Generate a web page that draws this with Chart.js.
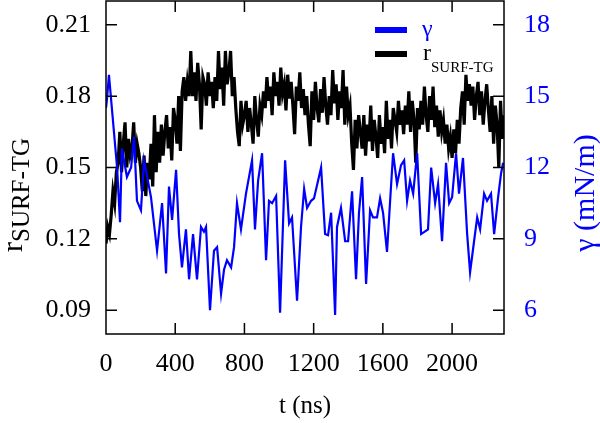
<!DOCTYPE html>
<html>
<head>
<meta charset="utf-8">
<script src="https://cdn.jsdelivr.net/npm/chart.js@4.4.1/dist/chart.umd.min.js"></script>
<style>
  body { margin: 0; background: #fff; }
  canvas { display: block; }
</style>
</head>
<body>
<canvas id="surfChart" width="600" height="423"></canvas>
<script>
// surface tension gamma (mN/m), read at irregular times
const gammaT = [0, 6, 17, 64, 81, 92, 121, 145, 162, 179, 202, 220, 260, 295, 324, 347, 364, 382, 405, 422,
  439, 462, 480, 503, 526, 549, 566, 578, 601, 624, 642, 665, 682, 699, 723, 740, 757, 780, 809, 844,
  861, 879, 902, 925, 942, 960, 983, 1006, 1035, 1058, 1075, 1104, 1127, 1145, 1162, 1185, 1202, 1243, 1266, 1283,
  1301, 1324, 1335, 1358, 1382, 1399, 1422, 1445, 1462, 1480, 1503, 1526, 1543, 1566, 1584, 1601, 1624, 1642, 1659, 1682,
  1705, 1723, 1740, 1757, 1775, 1798, 1821, 1861, 1879, 1902, 1919, 1942, 1965, 1983, 2000, 2023, 2040, 2063, 2087, 2104,
  2127, 2145, 2162, 2185, 2202, 2225, 2243, 2266, 2283, 2295];
const gammaVal = [14.5, 14.9, 15.9, 12.0, 9.7, 12.8, 11.6, 12.0, 13.3, 10.6, 10.2, 12.3, 10.75, 8.5, 10.5, 7.55, 11.2, 9.8, 11.9, 9.2,
  7.8, 9.4, 7.3, 9.2, 7.3, 9.5, 9.3, 9.5, 6.0, 8.5, 8.65, 6.7, 7.7, 8.1, 7.8, 8.65, 10.5, 9.4, 10.9, 12.3,
  9.4, 11.45, 12.6, 8.1, 10.6, 10.5, 10.8, 5.9, 12.3, 9.65, 9.9, 6.4, 9.5, 11.1, 10.3, 10.6, 10.7, 12.0, 9.2, 9.15,
  10.1, 5.8, 9.5, 10.3, 8.9, 8.9, 11.0, 7.3, 10.1, 11.6, 7.1, 10.2, 9.9, 9.9, 10.7, 10.1, 8.45, 10.6, 12.6, 11.3,
  12.1, 12.3, 10.6, 11.45, 10.9, 12.6, 9.2, 9.4, 12.0, 10.5, 11.3, 8.9, 12.2, 10.5, 10.75, 12.6, 10.9, 12.4, 9.2, 7.6,
  8.9, 9.9, 9.4, 10.9, 10.6, 10.9, 9.2, 10.75, 11.75, 12.2];

// r_SURF-TG, one reading every 10 ns from 0 to 2300
const R_STEP = 10;
const rVals = [
  0.118, 0.125, 0.122,
  0.130, 0.140, 0.135, 0.148,
  0.152, 0.165, 0.148, 0.160, 0.169, 0.150,
  0.162, 0.155, 0.158, 0.169, 0.152, 0.160, 0.156,
  0.150, 0.140, 0.155, 0.138, 0.152, 0.145,
  0.160, 0.142, 0.172, 0.148, 0.165, 0.152,
  0.168, 0.155, 0.165, 0.172, 0.158, 0.167, 0.153, 0.175,
  0.170, 0.160, 0.180, 0.157,
  0.182, 0.188, 0.178, 0.186, 0.180,
  0.199, 0.180, 0.190, 0.178, 0.194, 0.185, 0.166, 0.188,
  0.185, 0.176, 0.190, 0.180, 0.186, 0.175,
  0.188, 0.178, 0.199, 0.183, 0.192, 0.176, 0.199, 0.185, 0.190, 0.199, 0.180, 0.188,
  0.175, 0.165, 0.159, 0.178, 0.168, 0.172,
  0.178, 0.165, 0.175, 0.168, 0.160, 0.180, 0.170, 0.163, 0.176, 0.172,
  0.182, 0.175, 0.188, 0.178, 0.184, 0.172, 0.190, 0.180, 0.186, 0.176, 0.192, 0.181, 0.185, 0.174, 0.189, 0.179,
  0.186, 0.176, 0.164, 0.184, 0.178, 0.190, 0.175, 0.183, 0.172,
  0.180, 0.168, 0.159, 0.182, 0.170, 0.186, 0.175, 0.169, 0.183, 0.173, 0.188, 0.176, 0.168,
  0.180, 0.172, 0.191, 0.177, 0.185, 0.170, 0.182, 0.175, 0.191, 0.168, 0.184, 0.172,
  0.176, 0.160, 0.149, 0.170, 0.158, 0.172,
  0.165, 0.158, 0.172, 0.155, 0.168, 0.161, 0.176, 0.157, 0.170, 0.163,
  0.154, 0.172, 0.160, 0.167, 0.156, 0.178, 0.162, 0.170, 0.158, 0.175,
  0.170, 0.165, 0.178, 0.168, 0.174, 0.164,
  0.176, 0.168, 0.182, 0.165, 0.178, 0.170, 0.152, 0.175, 0.166,
  0.178, 0.168, 0.184, 0.172, 0.165, 0.180, 0.170, 0.184, 0.167, 0.176, 0.163,
  0.174, 0.165, 0.170, 0.160, 0.168, 0.158, 0.163, 0.154, 0.166, 0.156, 0.170, 0.160,
  0.175, 0.182, 0.168, 0.189, 0.178, 0.185,
  0.176, 0.184, 0.170, 0.180, 0.186, 0.172, 0.182, 0.168, 0.178, 0.185, 0.174,
  0.165, 0.180, 0.160, 0.176, 0.168, 0.150, 0.178, 0.162, 0.172
];

const xTicks = [0, 400, 800, 1200, 1600, 2000];
const leftTicks = [0.09, 0.12, 0.15, 0.18, 0.21];
const rightTicks = [6, 9, 12, 15, 18];

const SERIF = "'Liberation Serif', 'DejaVu Serif', serif";
const BLUE = '#0000ff';

function fixTicks(list) {
    return scale => { scale.ticks = list.map(v => ({ value: v })); };
}

// frame with inward ticks, axis titles and legend
const framePlugin = {
    id: 'frame',
    afterDatasetsDraw(chart) {
        const { ctx, chartArea: a, scales } = chart;
        const tl = 11;
        ctx.save();
        ctx.strokeStyle = '#000';
        ctx.lineWidth = 1.5;
        ctx.strokeRect(a.left, a.top, a.right - a.left, a.bottom - a.top);

        ctx.beginPath();
        xTicks.forEach(v => {
            const px = scales.x.getPixelForValue(v);
            if (px <= a.left + 1) return;
            ctx.moveTo(px, a.bottom); ctx.lineTo(px, a.bottom - tl);
            ctx.moveTo(px, a.top); ctx.lineTo(px, a.top + tl);
        });
        leftTicks.forEach(v => {
            const py = scales.yL.getPixelForValue(v);
            ctx.moveTo(a.left, py); ctx.lineTo(a.left + tl, py);
        });
        rightTicks.forEach(v => {
            const py = scales.yR.getPixelForValue(v);
            ctx.moveTo(a.right, py); ctx.lineTo(a.right - tl, py);
        });
        ctx.stroke();

        // legend
        const lx = a.right - 129;
        ctx.lineWidth = 6;
        ctx.strokeStyle = BLUE;
        ctx.beginPath(); ctx.moveTo(lx, 30); ctx.lineTo(lx + 32, 30); ctx.stroke();
        ctx.strokeStyle = '#000';
        ctx.beginPath(); ctx.moveTo(lx, 54); ctx.lineTo(lx + 32, 54); ctx.stroke();
        ctx.textBaseline = 'alphabetic';
        ctx.textAlign = 'left';
        ctx.fillStyle = BLUE;
        ctx.font = '24px ' + SERIF;
        ctx.fillText('γ', lx + 47, 36);
        ctx.fillStyle = '#000';
        ctx.fillText('r', lx + 48, 60);
        const rw = ctx.measureText('r').width;
        ctx.font = '15px ' + SERIF;
        ctx.fillText('SURF-TG', lx + 48 + rw, 72);

        // x title
        ctx.font = '25px ' + SERIF;
        ctx.textAlign = 'center';
        ctx.fillText('t (ns)', (a.left + a.right) / 2, 413);

        // left title
        ctx.save();
        ctx.translate(22, 252);
        ctx.rotate(-Math.PI / 2);
        ctx.textAlign = 'left';
        ctx.font = '30px ' + SERIF;
        ctx.fillText('r', 0, 0);
        const rw2 = ctx.measureText('r').width;
        ctx.font = '25px ' + SERIF;
        ctx.fillText('SURF-TG', rw2, 7);
        ctx.restore();

        // right title
        ctx.save();
        ctx.translate(594, 193);
        ctx.rotate(-Math.PI / 2);
        ctx.textAlign = 'center';
        ctx.fillStyle = BLUE;
        ctx.font = '30px ' + SERIF;
        ctx.fillText('γ (mN/m)', 0, 0);
        ctx.restore();
        ctx.restore();
    }
};

function noPad(s) {
    s.paddingTop = 0; s.paddingBottom = 0; s.paddingLeft = 0; s.paddingRight = 0;
}

const ctx = document.getElementById('surfChart').getContext('2d');
const surfChart = new Chart(ctx, {
    type: 'line',
    data: {
        datasets: [
            {
                label: 'γ',
                data: gammaT.map((t, i) => ({ x: t, y: gammaVal[i] })),
                yAxisID: 'yR',
                borderColor: BLUE,
                borderWidth: 2.2,
                pointRadius: 0,
                tension: 0
            },
            {
                label: 'r SURF-TG',
                data: rVals.map((v, i) => ({ x: i * R_STEP, y: v })),
                yAxisID: 'yL',
                borderColor: '#000',
                borderWidth: 3.2,
                pointRadius: 0,
                tension: 0
            }
        ]
    },
    options: {
        responsive: false,
        animation: false,
        layout: { padding: { top: 1, left: 0, right: 0, bottom: 0 } },
        plugins: {
            legend: { display: false },
            tooltip: { enabled: false }
        },
        scales: {
            x: {
                type: 'linear',
                position: 'bottom',
                min: 0,
                max: 2300,
                afterBuildTicks: fixTicks(xTicks),
                afterFit: s => { s.height = 89; noPad(s); },
                grid: { display: false, drawTicks: false },
                border: { display: false },
                ticks: { color: '#000', padding: 15, maxRotation: 0, font: { family: SERIF, size: 26 },
                         callback: v => String(v) }
            },
            yL: {
                type: 'linear',
                position: 'left',
                min: 0.08,
                max: 0.22,
                afterBuildTicks: fixTicks(leftTicks),
                afterFit: s => { s.width = 106; noPad(s); },
                grid: { display: false, drawTicks: false },
                border: { display: false },
                ticks: { color: '#000', padding: 15, font: { family: SERIF, size: 26 },
                         callback: v => v.toFixed(2) }
            },
            yR: {
                type: 'linear',
                position: 'right',
                min: 5,
                max: 19,
                afterBuildTicks: fixTicks(rightTicks),
                afterFit: s => { s.width = 96; noPad(s); },
                grid: { display: false, drawTicks: false },
                border: { display: false },
                ticks: { color: BLUE, padding: 20, font: { family: SERIF, size: 26 },
                         callback: v => String(v) }
            }
        }
    },
    plugins: [framePlugin]
});
</script>
</body>
</html>
